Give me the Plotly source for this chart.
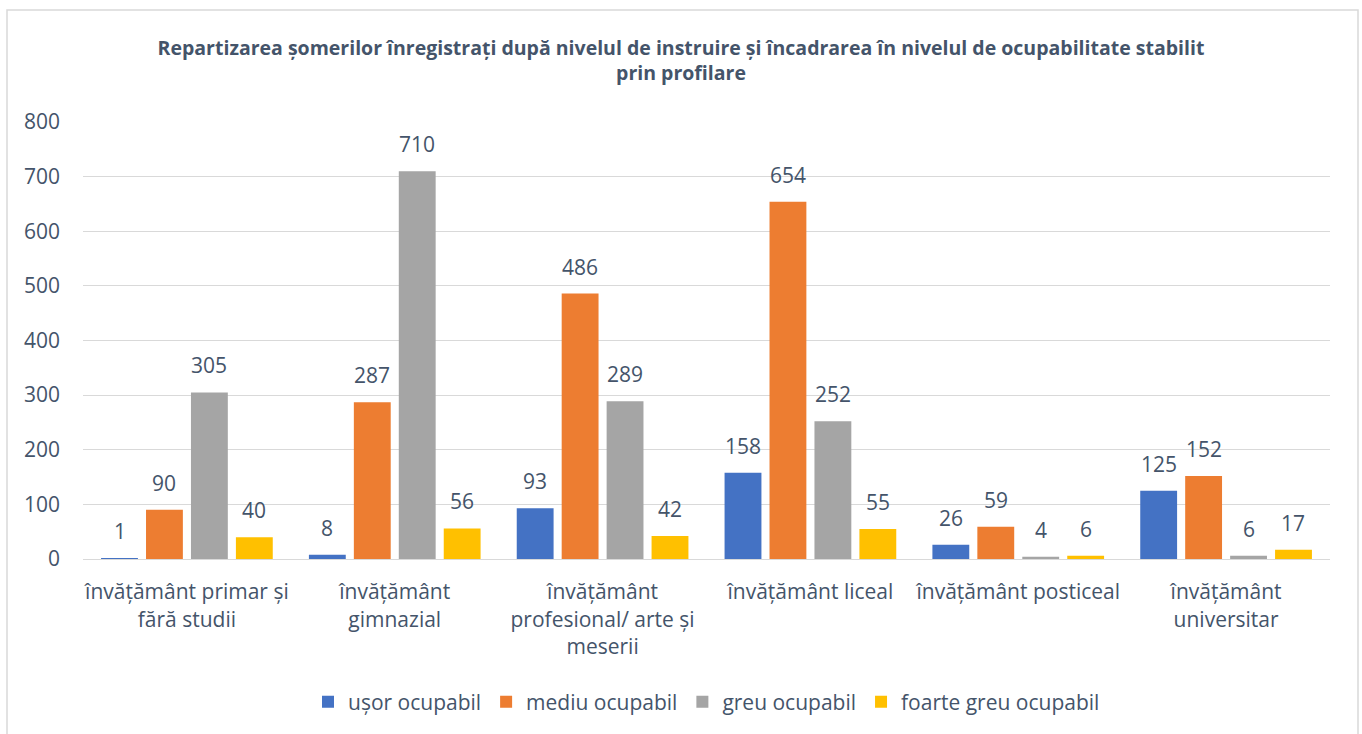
import plotly.graph_objects as go

categories = [
    "învățământ primar și<br>fără studii",
    "învățământ<br>gimnazial",
    "învățământ<br>profesional/ arte și<br>meserii",
    "învățământ liceal",
    "învățământ posticeal",
    "învățământ<br>universitar",
]
series_names = ["ușor ocupabil", "mediu ocupabil", "greu ocupabil", "foarte greu ocupabil"]
usor = [1, 8, 93, 158, 26, 125]
mediu = [90, 287, 486, 654, 59, 152]
greu = [305, 710, 289, 252, 4, 6]
foarte_greu = [40, 56, 42, 55, 6, 17]
colors = ["#4472C4", "#ED7D31", "#A5A5A5", "#FFC000"]
y_ticks = [0, 100, 200, 300, 400, 500, 600, 700, 800]

title_text = ("Repartizarea șomerilor înregistrați după nivelul de instruire și încadrarea în nivelul de ocupabilitate stabilit"
              "<br>prin profilare")

FONT = "'Open Sans', sans-serif"
TXT = "#44546A"
FS = 21

W, H = 1362, 734
ML, MR, MT, MB = 83, 32, 122, 175
plot_w = W - ML - MR
n_cat = len(categories)
bargap = 0.135
slot = plot_w / n_cat * (1 - bargap) / 4
offsets = [-1.5 * slot, -0.5 * slot, 0.5 * slot, 1.5 * slot]

fig = go.Figure()
all_series = [usor, mediu, greu, foarte_greu]
for name, vals, col in zip(series_names, all_series, colors):
    fig.add_trace(go.Bar(
        x=categories, y=vals, name=name,
        marker=dict(color=col, line=dict(width=0)),
        hoverinfo="x+y+name",
    ))

# data labels
for vals, off in zip(all_series, offsets):
    for cat, v in zip(categories, vals):
        fig.add_annotation(x=cat, y=v, xref="x", yref="y", text=str(v),
                           showarrow=False, xshift=off, yshift=11, yanchor="bottom",
                           font=dict(size=FS, color=TXT, family=FONT))

fig.update_layout(
    width=W, height=H,
    paper_bgcolor="white", plot_bgcolor="white",
    margin=dict(l=ML, r=MR, t=MT, b=MB),
    barmode="group", bargap=bargap, bargroupgap=0.18,
    font=dict(family=FONT, color=TXT, size=FS),
    title=dict(text="<b>" + title_text + "</b>", x=0.5, xanchor="center",
               y=1 - 55 / H, yanchor="middle",
               font=dict(size=19.5, color=TXT, family=FONT)),
    showlegend=True,
    legend=dict(orientation="h", x=0.5, xanchor="center", y=(559 - 702) / 437, yanchor="middle",
                font=dict(size=FS, color=TXT, family=FONT), itemwidth=30),
)
fig.update_yaxes(range=[0, 800], tickvals=y_ticks, showgrid=True, gridcolor="#D9D9D9",
                 gridwidth=1, zeroline=True, zerolinecolor="#D9D9D9", zerolinewidth=1,
                 showline=False, ticks="", tickfont=dict(size=FS, color=TXT, family=FONT),
                 ticklabelstandoff=22)
fig.update_xaxes(showgrid=False, showline=True, linecolor="#D9D9D9", ticks="",
                 tickfont=dict(size=FS, color=TXT, family=FONT), ticklabelstandoff=14)

fig.add_shape(type="rect", xref="paper", yref="paper",
              x0=(7 - ML) / plot_w, x1=(1358 - ML) / plot_w,
              y0=(559 - 760) / 437, y1=(559 - 10) / 437,
              line=dict(color="#D9D9D9", width=1.5), fillcolor="rgba(0,0,0,0)", layer="below")

fig.write_html("out.html", config={"displayModeBar": False},
               post_script="document.body.style.margin='0';document.body.style.padding='0';")
